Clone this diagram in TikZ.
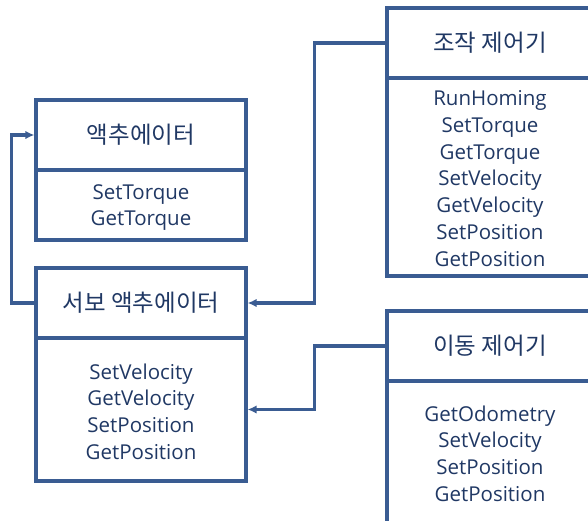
\documentclass[tikz,border=0pt]{standalone}
\usepackage{fontspec}
\setmainfont{Open Sans}
\newfontfamily\kr{Noto Sans CJK KR}
\usetikzlibrary{arrows.meta}
\definecolor{boxline}{HTML}{3A5C92}
\definecolor{boxtext}{HTML}{203864}
\begin{document}
\begin{tikzpicture}[x = 1pt, y = -1pt,
  head/.style = {draw = boxline, line width = 3.2pt, text = boxtext, minimum height = 70pt,
    inner sep = 0pt, font = \kr\fontsize{23.5}{26}\selectfont},
  body/.style = {draw = boxline, line width = 3.2pt, inner sep = 0pt},
  methods/.style = {text = boxtext, inner sep = 0pt, align = center,
    font = \fontsize{20.5}{26.7}\selectfont},
  conn/.style = {draw = boxline, line width = 3.2pt, -{Latex[length = 9pt, width = 8.5pt]}}]
\clip (0,0) rectangle (588,520);
% left boxes
\node[head, minimum width = 210pt] (acthead) at (141,135) {액추에이터};
\node[body, minimum width = 210pt, minimum height = 70pt] (actbody) at (141,205) {};
\node[methods] (actlist) at (141,207.5) {SetTorque\\GetTorque};
\node[head, minimum width = 210pt] (servohead) at (141,303) {서보 액추에이터};
\node[body, minimum width = 210pt, minimum height = 143pt] (servobody) at (141,409.5) {};
\node[methods] (servolist) at (141,411.5) {SetVelocity\\GetVelocity\\SetPosition\\GetPosition};
% right boxes
\node[head, minimum width = 206pt] (ctrlhead) at (490,43) {조작 제어기};
\node[body, minimum width = 206pt, minimum height = 198pt] (ctrlbody) at (490,177) {};
\node[methods] (ctrllist) at (490,178.5)
  {RunHoming\\SetTorque\\GetTorque\\SetVelocity\\GetVelocity\\SetPosition\\GetPosition};
\node[head, minimum width = 206pt] (movehead) at (490,346) {이동 제어기};
\node[body, minimum width = 206pt, minimum height = 143pt] (movebody) at (490,452.5) {};
\node[methods] (movelist) at (490,453.5) {GetOdometry\\SetVelocity\\SetPosition\\GetPosition};
% connectors
\draw[conn] (ctrlhead.west) -- ++(-71,0) |- (servohead.east);
\draw[conn] (movehead.west) -- ++(-71,0) |- (servobody.east);
\draw[conn] (servohead.west) -- ++(-23,0) |- (acthead.west);
\end{tikzpicture}
\end{document}
